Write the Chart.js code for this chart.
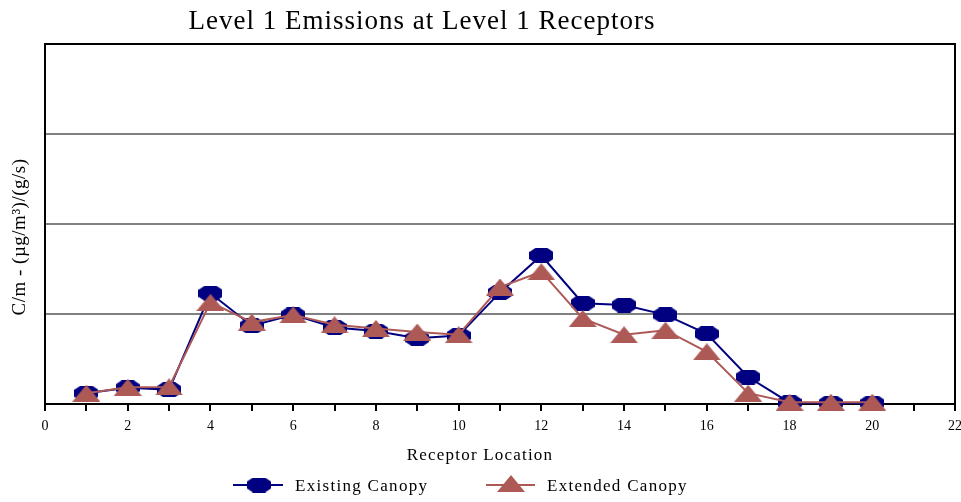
<!DOCTYPE html>
<html>
<head>
<meta charset="utf-8">
<script src="https://cdn.jsdelivr.net/npm/chart.js@4/dist/chart.umd.min.js"></script>
<style>
html, body { margin: 0; padding: 0; background: #fff; }
</style>
</head>
<body>
<canvas id="grafico" width="961" height="502"></canvas>
<script>
// Dados
var receptores = [1, 2, 3, 4, 5, 6, 7, 8, 9, 10, 11, 12, 13, 14, 15, 16, 17, 18, 19, 20];
var existingCanopy = [0.12, 0.18, 0.16, 1.23, 0.87, 0.99, 0.85, 0.81, 0.73, 0.76, 1.24, 1.65, 1.12, 1.10, 0.99, 0.78, 0.30, 0.015, 0.01, 0.01];
var extendedCanopy = [0.12, 0.185, 0.19, 1.13, 0.91, 0.99, 0.88, 0.84, 0.80, 0.77, 1.30, 1.47, 0.95, 0.77, 0.82, 0.58, 0.12, 0.02, 0.02, 0.02];
var xTicks = [0, 2, 4, 6, 8, 10, 12, 14, 16, 18, 20, 22];

var titulo = "Level 1 Emissions at Level 1 Receptors";
var tituloY = "C/m - (\u00b5g/m\u00b3)/(g/s)";
var tituloX = "Receptor Location";
var nomes = ["Existing Canopy", "Extended Canopy"];

var corAzul = "#000080";
var corVermelha = "#AD5A57";
var fonte = "'Liberation Serif', 'Times New Roman', serif";

function pontos(valores) {
    var lista = [];
    for (var i = 0; i < receptores.length; i++) {
        lista.push({x: receptores[i], y: valores[i]});
    }
    return lista;
}

//Marcadores desenhados em canvas
function marcaOctogono(cor) {
    var c = document.createElement("canvas");
    c.width = 24; c.height = 15;
    var g = c.getContext("2d");
    var w = c.width, h = c.height, a = 6, b = 4;
    g.fillStyle = cor;
    g.beginPath();
    g.moveTo(a, 0); g.lineTo(w - a, 0); g.lineTo(w, b); g.lineTo(w, h - b);
    g.lineTo(w - a, h); g.lineTo(a, h); g.lineTo(0, h - b); g.lineTo(0, b);
    g.closePath();
    g.fill();
    return c;
}

function marcaTriangulo(cor) {
    var c = document.createElement("canvas");
    c.width = 28; c.height = 17;
    var g = c.getContext("2d");
    g.fillStyle = cor;
    g.beginPath();
    g.moveTo(14, 0); g.lineTo(28, 17); g.lineTo(0, 17);
    g.closePath();
    g.fill();
    return c;
}

var octogono = marcaOctogono(corAzul);
var triangulo = marcaTriangulo(corVermelha);

var extras = {
    id: "extras",
    beforeDatasetsDraw: function (chart) {
        var ctx = chart.ctx, a = chart.chartArea;
        ctx.save();
        ctx.strokeStyle = "#000";
        ctx.lineWidth = 2;
        ctx.beginPath();
        ctx.moveTo(a.left, a.top);
        ctx.lineTo(a.right, a.top);
        ctx.lineTo(a.right, a.bottom);
        ctx.stroke();
        ctx.restore();
    },
    afterDraw: function (chart) {
        var ctx = chart.ctx;
        ctx.save();
        ctx.fillStyle = "#000";
        ctx.textBaseline = "alphabetic";

        //Titulo
        ctx.textAlign = "center";
        ctx.font = "27px " + fonte;
        ctx.letterSpacing = "1px";
        ctx.fillText(titulo, 422, 29);

        //Titulo do eixo X
        ctx.font = "17px " + fonte;
        ctx.letterSpacing = "1.2px";
        ctx.fillText(tituloX, 480, 460);

        //Titulo do eixo Y
        ctx.save();
        ctx.translate(25, 237);
        ctx.rotate(-Math.PI / 2);
        ctx.font = "19px " + fonte;
        ctx.letterSpacing = "0.5px";
        ctx.fillText(tituloY, 0, 0);
        ctx.restore();

        //Legenda
        ctx.lineWidth = 2;
        ctx.strokeStyle = corAzul;
        ctx.beginPath(); ctx.moveTo(233, 485); ctx.lineTo(283, 485); ctx.stroke();
        ctx.drawImage(octogono, 259 - 12, 485 - 7.5);
        ctx.strokeStyle = corVermelha;
        ctx.beginPath(); ctx.moveTo(486, 485); ctx.lineTo(535, 485); ctx.stroke();
        ctx.drawImage(triangulo, 511 - 14, 485 - 10);

        ctx.textAlign = "left";
        ctx.font = "17px " + fonte;
        ctx.letterSpacing = "1.3px";
        ctx.fillText(nomes[0], 295, 491);
        ctx.fillText(nomes[1], 547, 491);
        ctx.restore();
    }
};

var ctx = document.getElementById("grafico");

var grafico = new Chart(ctx, {
    type: "line",
    data: {
        datasets: [{
            label: nomes[0],
            data: pontos(existingCanopy),
            borderColor: corAzul,
            borderWidth: 2,
            pointStyle: octogono,
            order: 1,
            clip: false
        }, {
            label: nomes[1],
            data: pontos(extendedCanopy),
            borderColor: corVermelha,
            borderWidth: 2,
            pointStyle: triangulo,
            order: 0,
            clip: false
        }]
    },
    options: {
        responsive: false,
        animation: false,
        events: [],
        layout: {
            padding: {top: 44, right: 6, bottom: 0, left: 0}
        },
        plugins: {
            legend: {display: false},
            title: {display: false},
            tooltip: {enabled: false}
        },
        scales: {
            x: {
                type: "linear",
                min: 0,
                max: 22,
                afterFit: function (s) {
                    s.height = 98;
                    s.paddingLeft = 0;
                    s.paddingRight = 0;
                },
                afterBuildTicks: function (s) {
                    var t = [];
                    for (var i = 0; i <= 22; i++) t.push({value: i});
                    s.ticks = t;
                },
                ticks: {
                    autoSkip: false,
                    maxRotation: 0,
                    padding: 7,
                    color: "#000",
                    font: {family: fonte, size: 14},
                    callback: function (v) {
                        return xTicks.indexOf(v) >= 0 ? String(v) : "";
                    }
                },
                grid: {
                    drawOnChartArea: false,
                    drawTicks: true,
                    tickLength: 7,
                    color: "#000",
                    lineWidth: 2
                },
                border: {color: "#000", width: 2}
            },
            y: {
                min: 0,
                max: 4,
                afterFit: function (s) { s.width = 45; },
                ticks: {display: false, stepSize: 1},
                grid: {
                    drawTicks: false,
                    lineWidth: 2,
                    color: function (c) {
                        return (c.tick.value > 0 && c.tick.value < 4) ? "#808080" : "rgba(0,0,0,0)";
                    }
                },
                border: {color: "#000", width: 2}
            }
        }
    },
    plugins: [extras]
});
</script>
</body>
</html>
